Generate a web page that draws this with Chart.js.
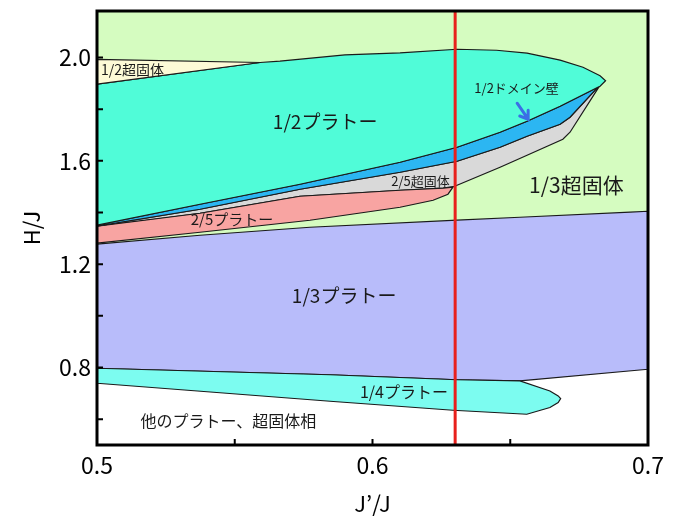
<!DOCTYPE html>
<html>
<head>
<meta charset="utf-8">
<script src="https://cdn.jsdelivr.net/npm/chart.js@4/dist/chart.umd.min.js"></script>
<style>html,body{margin:0;padding:0;background:#fff}</style>
</head>
<body>
<canvas id="chart" width="675" height="517"></canvas>
<script>
// axes
const xMin = 0.5, xMax = 0.7, yMin = 0.5, yMax = 2.18;
const xTicks = [0.5, 0.55, 0.6, 0.65, 0.7];
const xLabeled = [0.5, 0.6, 0.7];
const yTicks = [0.6, 0.8, 1.0, 1.2, 1.4, 1.6, 1.8, 2.0];
const yLabeled = [0.8, 1.2, 1.6, 2.0];

// phase regions, points as [J'/J, H/J]
const superSolid13 = [[0.5, 2.18], [0.7, 2.18], [0.7, 1.0], [0.5, 1.0]];
const plateau13 = [[0.5, 1.2772], [0.5374, 1.312], [0.5773, 1.343], [0.6307, 1.3701], [0.6535, 1.3817], [0.6935, 1.4011], [0.7, 1.4049],
  [0.7, 0.7933], [0.6535, 0.748], [0.6307, 0.7526], [0.5846, 0.772], [0.5, 0.7971]];
const plateau14 = [[0.5, 0.7971], [0.5846, 0.772], [0.6307, 0.7526], [0.6535, 0.748], [0.6644, 0.7092], [0.6674, 0.6899], [0.6683, 0.6798],
  [0.6674, 0.6643], [0.6644, 0.645], [0.656, 0.619], [0.6292, 0.6345], [0.5846, 0.6694], [0.5, 0.7391]];
const superSolid25 = [[0.5, 1.3469], [0.5374, 1.4127], [0.5737, 1.4901], [0.61, 1.5559], [0.6307, 1.5985], [0.6463, 1.6527], [0.6561, 1.6953],
  [0.6681, 1.7418], [0.6717, 1.7689], [0.6818, 1.885], [0.6826, 1.8928], [0.6717, 1.7108], [0.6691, 1.6837], [0.6561, 1.6217],
  [0.6463, 1.5753], [0.6307, 1.5056], [0.6299, 1.5017], [0.6256, 1.494], [0.61, 1.4862], [0.5737, 1.463], [0.5374, 1.3972], [0.5, 1.343]];
const plateau25 = [[0.5, 1.3469], [0.5374, 1.3972], [0.5737, 1.463], [0.61, 1.4862], [0.6256, 1.494], [0.6292, 1.4979], [0.6274, 1.4708],
  [0.622, 1.4475], [0.61, 1.4204], [0.5773, 1.3701], [0.5374, 1.3236], [0.5, 1.2811]];
const domainWall12 = [[0.5, 1.3507], [0.5374, 1.432], [0.5737, 1.5095], [0.61, 1.5946], [0.6307, 1.6527], [0.6463, 1.7108], [0.6561, 1.7534],
  [0.6681, 1.8115], [0.6818, 1.885], [0.6717, 1.7689], [0.6681, 1.7418], [0.6561, 1.6953], [0.6463, 1.6527], [0.6307, 1.5985],
  [0.61, 1.5559], [0.5737, 1.4901], [0.5374, 1.4127], [0.5, 1.3469]];
const plateau12 = [[0.5, 1.8966], [0.5592, 1.9806], [0.5664, 1.9857], [0.59, 2.01], [0.61, 2.018], [0.6307, 2.032], [0.645, 2.028],
  [0.6561, 2.0166], [0.6681, 1.99], [0.6764, 1.9624], [0.6826, 1.9295], [0.6846, 1.9102], [0.6826, 1.8889], [0.6818, 1.885],
  [0.6681, 1.8115], [0.6561, 1.7534], [0.6463, 1.7108], [0.6307, 1.6527], [0.61, 1.5946], [0.5737, 1.5095], [0.5374, 1.432], [0.5, 1.3507]];
const superSolid12 = [[0.5, 1.993], [0.5592, 1.9806], [0.5, 1.8966]];
const cutX = 0.63;

const labels = [
  { text: '1/2超固体', x: 0.5129, y: 1.952, size: 14 },
  { text: '1/2プラトー', x: 0.5828, y: 1.7495, size: 19 },
  { text: '1/2ドメイン壁', x: 0.6523, y: 1.8811, size: 13 },
  { text: '2/5超固体', x: 0.6174, y: 1.5223, size: 13 },
  { text: '1/3超固体', x: 0.674, y: 1.5056, size: 21 },
  { text: '2/5プラトー', x: 0.549, y: 1.374, size: 15 },
  { text: '1/3プラトー', x: 0.5897, y: 1.0759, size: 19 },
  { text: '1/4プラトー', x: 0.6114, y: 0.7042, size: 16 },
  { text: '他のプラトー、超固体相', x: 0.5477, y: 0.5931, size: 16 }
];
const arrowFrom = [0.6525, 1.823], arrowTo = [0.6565, 1.7611];

Chart.defaults.font.family = '"Noto Sans CJK JP", "Noto Sans", sans-serif';

const region = (pts, fillColor, order, border = true) => ({
  data: pts.concat([pts[0]]).map(([x, y]) => ({ x, y })),
  backgroundColor: fillColor,
  borderColor: border ? '#1a1a1a' : 'rgba(0,0,0,0)',
  borderWidth: border ? 1.2 : 0,
  fill: 'shape',
  tension: 0,
  pointRadius: 0,
  order
});

const overlay = {
  id: 'overlay',
  afterDatasetsDraw(chart) {
    const { ctx, chartArea: a, scales: { x, y } } = chart;
    ctx.save();
    ctx.fillStyle = '#1a1a1a';
    ctx.textAlign = 'center';
    ctx.textBaseline = 'middle';
    labels.forEach(l => {
      ctx.font = `${l.size}px "Noto Sans CJK JP"`;
      ctx.fillText(l.text, x.getPixelForValue(l.x), y.getPixelForValue(l.y));
    });
    // arrow
    const x0 = x.getPixelForValue(arrowFrom[0]), y0 = y.getPixelForValue(arrowFrom[1]);
    const x1 = x.getPixelForValue(arrowTo[0]), y1 = y.getPixelForValue(arrowTo[1]);
    const ang = Math.atan2(y1 - y0, x1 - x0);
    ctx.strokeStyle = '#3b6fe6';
    ctx.lineWidth = 3;
    ctx.lineCap = 'round';
    ctx.beginPath();
    ctx.moveTo(x0, y0); ctx.lineTo(x1, y1);
    ctx.moveTo(x1 - 9 * Math.cos(ang - 0.6), y1 - 9 * Math.sin(ang - 0.6));
    ctx.lineTo(x1, y1);
    ctx.lineTo(x1 - 9 * Math.cos(ang + 0.6), y1 - 9 * Math.sin(ang + 0.6));
    ctx.stroke();
    // inward ticks
    ctx.strokeStyle = '#000';
    ctx.lineWidth = 2;
    ctx.lineCap = 'butt';
    ctx.beginPath();
    xTicks.forEach(v => { const p = x.getPixelForValue(v); ctx.moveTo(p, a.bottom); ctx.lineTo(p, a.bottom - 6); });
    yTicks.forEach(v => { const p = y.getPixelForValue(v); ctx.moveTo(a.left, p); ctx.lineTo(a.left + 6, p); });
    ctx.stroke();
    ctx.lineWidth = 3;
    ctx.strokeRect(a.left, a.top, a.right - a.left, a.bottom - a.top);
    ctx.restore();
  }
};

const tickFont = { size: 23 };

new Chart(document.getElementById('chart'), {
  type: 'line',
  data: {
    datasets: [
      region(superSolid13, '#d5fcc0', 10, false),
      region(plateau13, '#b8bcfa', 9),
      region(plateau14, '#7cfcf0', 8),
      region(superSolid25, '#d9d9d9', 7),
      region(plateau25, '#f8a4a2', 6),
      region(domainWall12, '#2cb6f2', 5),
      region(plateau12, '#50fcd8', 4),
      region(superSolid12, '#fdfad6', 3),
      {
        data: [{ x: cutX, y: yMin }, { x: cutX, y: yMax }],
        borderColor: '#e8201c',
        borderWidth: 3,
        pointRadius: 0,
        fill: false,
        order: 1
      }
    ]
  },
  options: {
    responsive: false,
    devicePixelRatio: 1,
    animation: false,
    events: [],
    layout: { padding: { top: 11, right: 27, left: 0, bottom: 0 } },
    plugins: { legend: { display: false }, tooltip: { enabled: false } },
    scales: {
      x: {
        type: 'linear', min: xMin, max: xMax,
        afterBuildTicks: s => { s.ticks = xTicks.map(v => ({ value: v })); },
        afterFit: s => { s.height = 72; s.paddingLeft = 0; s.paddingRight = 0; },
        grid: { display: false, drawTicks: false },
        border: { display: false },
        ticks: {
          autoSkip: false, maxRotation: 0, padding: 6, color: '#000', font: tickFont,
          callback: v => xLabeled.some(t => Math.abs(t - v) < 1e-9) ? v.toFixed(1) : ''
        },
        title: { display: true, text: 'J’/J', color: '#000', font: { size: 22 }, padding: { top: 0, bottom: 0 } }
      },
      y: {
        type: 'linear', min: yMin, max: yMax,
        afterBuildTicks: s => { s.ticks = yTicks.map(v => ({ value: v })); },
        afterFit: s => { s.width = 97; s.paddingTop = 0; s.paddingBottom = 0; },
        grid: { display: false, drawTicks: false },
        border: { display: false },
        ticks: {
          autoSkip: false, padding: 6, color: '#000', font: tickFont,
          callback: v => yLabeled.some(t => Math.abs(t - v) < 1e-9) ? v.toFixed(1) : ''
        },
        title: { display: true, text: 'H/J', color: '#000', font: { size: 22 }, padding: { top: 18, bottom: 0 } }
      }
    }
  },
  plugins: [overlay]
});
</script>
</body>
</html>
